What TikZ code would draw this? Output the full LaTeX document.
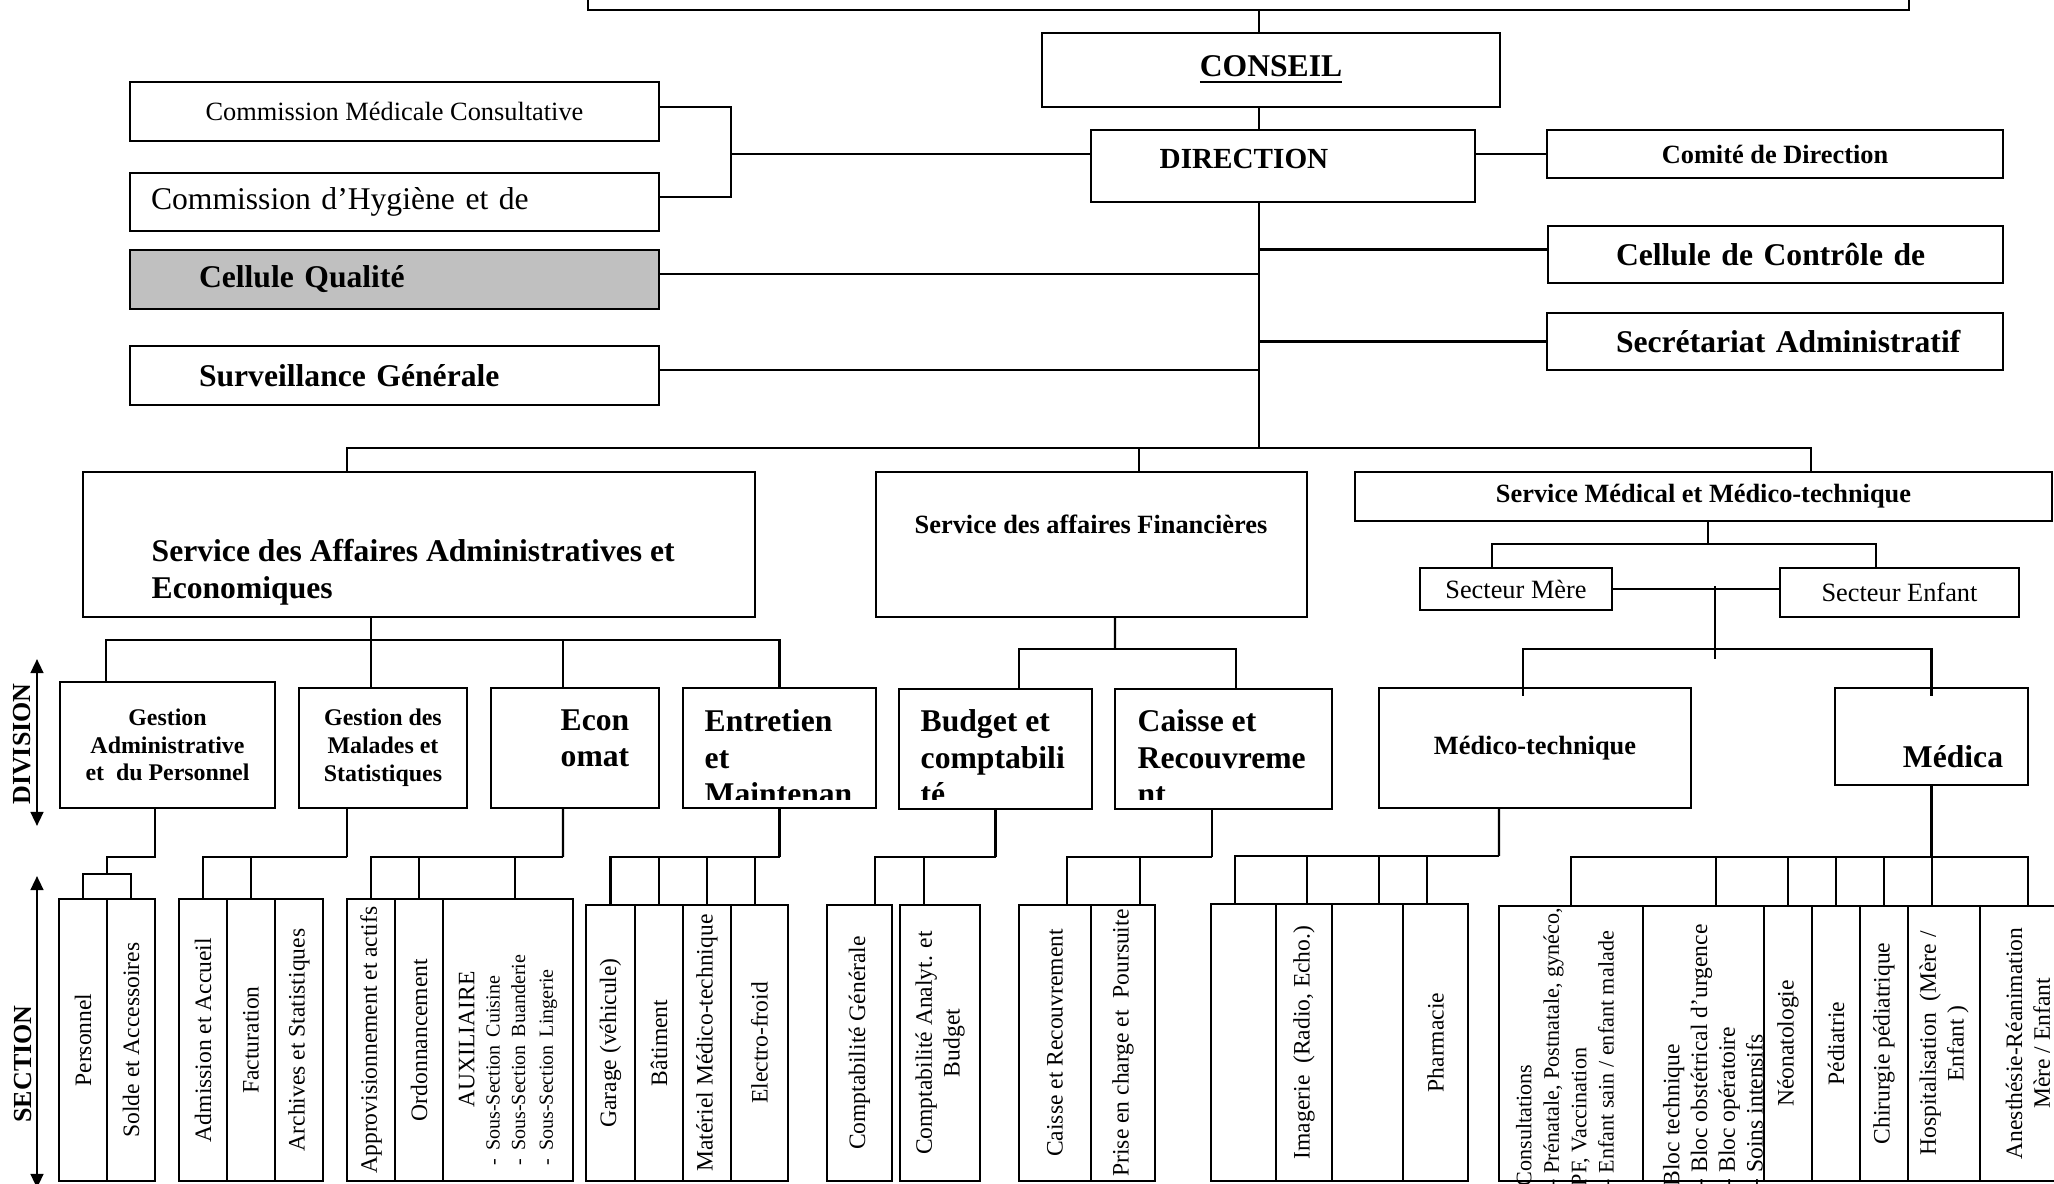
\documentclass[tikz,border=0pt]{standalone}
\usepackage{fontspec}
\setmainfont{Liberation Serif}
\usetikzlibrary{arrows.meta}
\definecolor{silver}{HTML}{C0C0C0}
\tikzset{box/.style={draw,line width=.6pt,inner sep=0pt,align=center},
  link/.style={line width=.6pt},
  bigtxt/.style={font=\fontsize{9}{10.4}\selectfont\bfseries},
  midtxt/.style={font=\fontsize{7.5}{9}\selectfont\bfseries},
  divtxt/.style={font=\fontsize{6.8}{7.9}\selectfont\bfseries},
  sectxt/.style={font=\fontsize{6.7}{7.9}\selectfont},
  col/.style={box,rotate=90,sectxt},
  levelarrow/.style={{Triangle[length=4pt,width=3.6pt]}-{Triangle[length=4pt,width=3.6pt]},line width=.7pt}}

\begin{document}
\begin{tikzpicture}
\useasboundingbox (0,0) rectangle (20.54,-11.84);
\node[box,minimum width=13.21cm,minimum height=.5cm] (tutelle) at (12.485,.15) {};
\node[box,bigtxt,minimum width=4.58cm,minimum height=.74cm] (conseil) at (12.71,-.70) {\underline{CONSEIL}};
\node[box,minimum width=3.84cm,minimum height=.72cm] (direction) at (12.83,-1.66) {};
\node[anchor=west,inner sep=0pt,font=\fontsize{8.3}{10}\selectfont\bfseries] (direction-t) at (11.59,-1.59) {DIRECTION};
\node[box,midtxt,minimum width=4.56cm,minimum height=.48cm] (comite) at (17.75,-1.54) {Comité de Direction};
\node[box,bigtxt,text width=4.55cm,align=left,minimum height=.57cm] (controle) at (17.755,-2.545) {\hspace*{.68cm}Cellule de Contrôle de};
\node[box,bigtxt,text width=4.56cm,align=left,minimum height=.57cm] (secretariat) at (17.75,-3.415) {\hspace*{.69cm}Secrétariat Administratif};
\node[box,font=\fontsize{7.5}{9}\selectfont,minimum width=5.29cm,minimum height=.59cm] (cmc) at (3.945,-1.115) {Commission Médicale Consultative};
\node[box,font=\fontsize{9}{10.4}\selectfont,text width=5.29cm,align=left,minimum height=.58cm] (hygiene) at (3.945,-2.02) {\hspace*{.21cm}Commission d’Hygiène et de};
\node[box,bigtxt,fill=silver,text width=5.29cm,align=left,minimum height=.59cm] (qualite) at (3.945,-2.795) {\hspace*{.69cm}Cellule Qualité};
\node[box,bigtxt,text width=5.29cm,align=left,minimum height=.59cm] (surveillance) at (3.945,-3.755) {\hspace*{.69cm}Surveillance Générale};

\node[box,minimum width=6.72cm,minimum height=1.45cm] (saae) at (4.19,-5.445) {};
\node[bigtxt,anchor=north west,align=left,inner sep=0pt] (saae-t) at (1.51,-5.385) {Service des Affaires Administratives et\\Economiques};
\node[box,minimum width=4.31cm,minimum height=1.45cm] (saf) at (10.915,-5.445) {};
\node[midtxt] (saf-t) at (10.91,-5.24) {Service des affaires Financières};
\node[box,midtxt,minimum width=6.97cm,minimum height=.49cm] (smmt) at (17.035,-4.965) {Service Médical et Médico-technique};
\node[box,font=\fontsize{7.5}{9}\selectfont,minimum width=1.92cm,minimum height=.42cm] (mere) at (15.16,-5.89) {Secteur Mère};
\node[box,font=\fontsize{7.5}{9}\selectfont,minimum width=2.39cm,minimum height=.49cm] (enfant) at (18.995,-5.925) {Secteur Enfant};

\node[box,divtxt,minimum width=2.15cm,minimum height=1.26cm] (gap) at (1.675,-7.45) {Gestion\\Administrative\\et \ du Personnel};
\node[box,divtxt,minimum width=1.68cm,minimum height=1.2cm] (gms) at (3.83,-7.48) {Gestion des\\Malades et\\Statistiques};
\node[box,minimum width=1.68cm,minimum height=1.2cm] (econ) at (5.75,-7.48) {};
\node[bigtxt,anchor=north west,align=left,inner sep=0pt] (econ-t) at (5.60,-7.09) {Econ\\omat};
\node[box,minimum width=1.93cm,minimum height=1.2cm] (entretien) at (7.795,-7.48) {};
\node[box,minimum width=1.93cm,minimum height=1.2cm] (budget) at (9.955,-7.49) {};
\node[box,minimum width=2.17cm,minimum height=1.2cm] (caisse) at (12.235,-7.49) {};
\begin{scope}
\clip (entretien.north west) rectangle ([yshift=.1cm]entretien.south east)
  (budget.north west) rectangle ([yshift=.11cm]budget.south east)
  (caisse.north west) rectangle ([yshift=.11cm]caisse.south east);
\node[bigtxt,anchor=north west,align=left,inner sep=0pt] (entretien-t) at (7.04,-7.09) {Entretien\\et\\Maintenan};
\node[bigtxt,anchor=north west,align=left,inner sep=0pt] (budget-t) at (9.20,-7.09) {Budget et\\comptabili\\té};
\node[bigtxt,anchor=north west,align=left,inner sep=0pt] (caisse-t) at (11.37,-7.09) {Caisse et\\Recouvreme\\nt};
\end{scope}
\node[box,midtxt,minimum width=3.12cm,minimum height=1.2cm] (mt) at (15.35,-7.48) {Médico-technique};
\node[box,minimum width=1.93cm,minimum height=.97cm] (medica) at (19.315,-7.365) {};
\node[bigtxt] (medica-t) at (19.53,-7.57) {Médica};

\foreach \n/\xa/\xb/\ya/\txt in {pers/59/107/899/Personnel,solde/107/155/899/Solde et Accessoires,
  admis/179/227/899/Admission et Accueil,factu/227/275/899/Facturation,archi/275/323/899/Archives et Statistiques,
  appro/347/395/899/Approvisionnement et actifs,ordo/395/443/899/Ordonnancement,auxil/443/573/899/{},
  garage/586/635/905/{Garage (véhicule)},bati/635/683/905/Bâtiment,mater/683/731/905/Matériel Médico-technique,
  electro/731/788/905/Electro-froid,cptg/827/892/905/Comptabilité Générale,cpta/900/980/905/{Comptabilité Analyt. et\\Budget},
  caisr/1019/1091/905/Caisse et Recouvrement,prise/1091/1155/905/{Prise en charge et \ Poursuite},
  imga/1211/1276/904/{},imgb/1276/1332/904/{Imagerie \ (Radio, Echo.)},imgc/1332/1403/904/{},pharma/1403/1468/904/Pharmacie,
  consul/1499/1643/906/{},bloc/1643/1764/906/{},neo/1764/1812/906/Néonatologie,pedia/1812/1860/906/Pédiatrie,
  chir/1860/1908/906/Chirurgie pédiatrique,hosp/1908/1980/906/{Hospitalisation \ (Mère /\\Enfant )},
  anest/1980/2076/906/{Anesthésie-Réanimation\\Mère / Enfant}}{
  \node[col,minimum width={(1181-\ya)*0.01cm},minimum height={(\xb-\xa)*0.01cm}] (\n) at ({(\xa+\xb)/200},{-(\ya+1181)/200}) {\txt};
}
\node[sectxt,rotate=90,anchor=west,align=left,inner sep=0pt,text width=2.52cm] (auxil-t) at ([yshift=.16cm]auxil.west) {\makebox[2.52cm]{AUXILIAIRE}\\\fontsize{5.7}{7.2}\selectfont - Sous-Section Cuisine\\- Sous-Section Buanderie\\- Sous-Section Lingerie};
\node[rotate=90,anchor=west,align=left,inner sep=0pt,font=\fontsize{6.3}{7.8}\selectfont] (consul-t) at ([shift={(-.06,-.05)}]consul.west) {Consultations\\- Prénatale, Postnatale, gynéco,\\PF, Vaccination\\- Enfant sain / enfant malade};
\node[sectxt,rotate=90,anchor=west,align=left,inner sep=0pt] (bloc-t) at ([shift={(.095,-.05)}]bloc.west) {Bloc technique\\- Bloc obstétrical d’urgence\\- Bloc opératoire\\- Soins intensifs};

\coordinate (div-up) at (.37,-6.59);
\coordinate (div-down) at (.37,-8.26);
\draw[levelarrow] (div-up) -- (div-down);
\node[rotate=90,font=\fontsize{7.4}{9}\selectfont\bfseries] (division) at (.22,-7.44) {DIVISION};
\coordinate (sec-up) at (.37,-8.76);
\coordinate (sec-down) at (.37,-11.88);
\draw[levelarrow] (sec-up) -- (sec-down);
\node[rotate=90,font=\fontsize{7.4}{9}\selectfont\bfseries] (section) at (.23,-10.64) {SECTION};

\coordinate (spine) at (12.59,-4.48);
\draw[link] (spine |- tutelle.south) -- (spine |- conseil.north);
\draw[link] (spine |- conseil.south) -- (spine |- direction.north);
\draw[link] (spine |- direction.south) -- (spine);
\draw[link] (direction.east |- comite.west) -- (comite.west);
\draw[link] ([yshift=.05cm]controle.west) -- ([yshift=.05cm]controle.west -| spine);
\draw[link] (secretariat.west) -- (secretariat.west -| spine);
\draw[link] ([yshift=.055cm]qualite.east) -- ([yshift=.055cm]qualite.east -| spine);
\draw[link] ([yshift=.055cm]surveillance.east) -- ([yshift=.055cm]surveillance.east -| spine);
\coordinate (comm) at (7.31,-1.54);
\draw[link] ([yshift=.045cm]cmc.east) -| (comm) |- ([yshift=.05cm]hygiene.east);
\draw[link] (comm) -- (comm -| direction.west);
\draw[link] (spine) -| ([xshift=-.72cm]saae.north);
\draw[link] (spine) -| ([xshift=.475cm]saf.north);
\draw[link] (spine) -| ([xshift=1.075cm]smmt.north);

\coordinate (saae-j) at (3.71,-6.40);
\draw[link] ([xshift=-.48cm]saae.south) -- (saae-j);
\foreach \d/\s in {gap/-.615,gms/-.12,econ/-.12,entretien/0}
  \draw[link] (saae-j) -| ([xshift=\s cm]\d.north);
\coordinate (saf-j) at (11.15,-6.49);
\draw[link] ([xshift=.235cm]saf.south) -- (saf-j);
\foreach \d/\s in {budget/.235,caisse/.125}
  \draw[link] (saf-j) -| ([xshift=\s cm]\d.north);
\coordinate (smmt-j) at (17.08,-5.44);
\draw[link] ([xshift=.045cm]smmt.south) -- (smmt-j);
\draw[link] (smmt-j) -| ([xshift=-.24cm]mere.north);
\draw[link] (smmt-j) -| ([xshift=-.235cm]enfant.north);
\draw[link] (mere.east) -- (mere.east -| enfant.west);
\coordinate (sect-a) at (17.15,-5.86);
\coordinate (sect-b) at (17.15,-6.59);
\coordinate (sect-j) at (17.15,-6.49);
\draw[link] (sect-a) -- (sect-b);
\draw[link] (sect-j) -| ([shift={(-.12,-.09)}]mt.north);
\draw[link] (sect-j) -| ([yshift=-.09cm]medica.north);

\coordinate (g1a) at (1.07,-8.57);
\coordinate (g1b) at (1.07,-8.74);
\draw[link] ([xshift=-.125cm]gap.south) |- (g1a) -- (g1b);
\draw[link] (pers.east) |- (g1b) -| (solde.east);
\coordinate (g2) at (3.47,-8.57);
\coordinate (g3) at (5.63,-8.57);
\coordinate (g4) at (7.795,-8.57);
\coordinate (g5) at (9.955,-8.57);
\coordinate (g6) at (12.12,-8.57);
\coordinate (g7) at (14.99,-8.56);
\coordinate (g8) at (19.315,-8.57);
\draw[link] ([xshift=-.36cm]gms.south) -- (g2);
\draw[link] ([xshift=-.12cm]econ.south) -- (g3);
\draw[link] (entretien.south) -- (g4);
\draw[link] (budget.south) -- (g5);
\draw[link] ([xshift=-.115cm]caisse.south) -- (g6);
\draw[link] ([xshift=-.36cm]mt.south) -- (g7);
\draw[link] (medica.south) -- (g8);
\foreach \g/\c/\s in {g2/admis/0,g2/factu/0,g3/appro/0,g3/ordo/0,g3/auxil/.07,
  g4/garage/0,g4/bati/0,g4/mater/0,g4/electro/-.045,g5/cptg/.155,g5/cpta/-.16,
  g6/caisr/.12,g6/prise/.17,g7/imga/-.085,g7/imgb/.03,g7/imgc/.115,g7/pharma/-.085,
  g8/consul/0,g8/bloc/.125,g8/neo/0,g8/pedia/0,g8/chir/0,g8/hosp/-.12,g8/anest/0}
  \draw[link] (\g) -| ([xshift=\s cm]\c.east);
\end{tikzpicture}
\end{document}
